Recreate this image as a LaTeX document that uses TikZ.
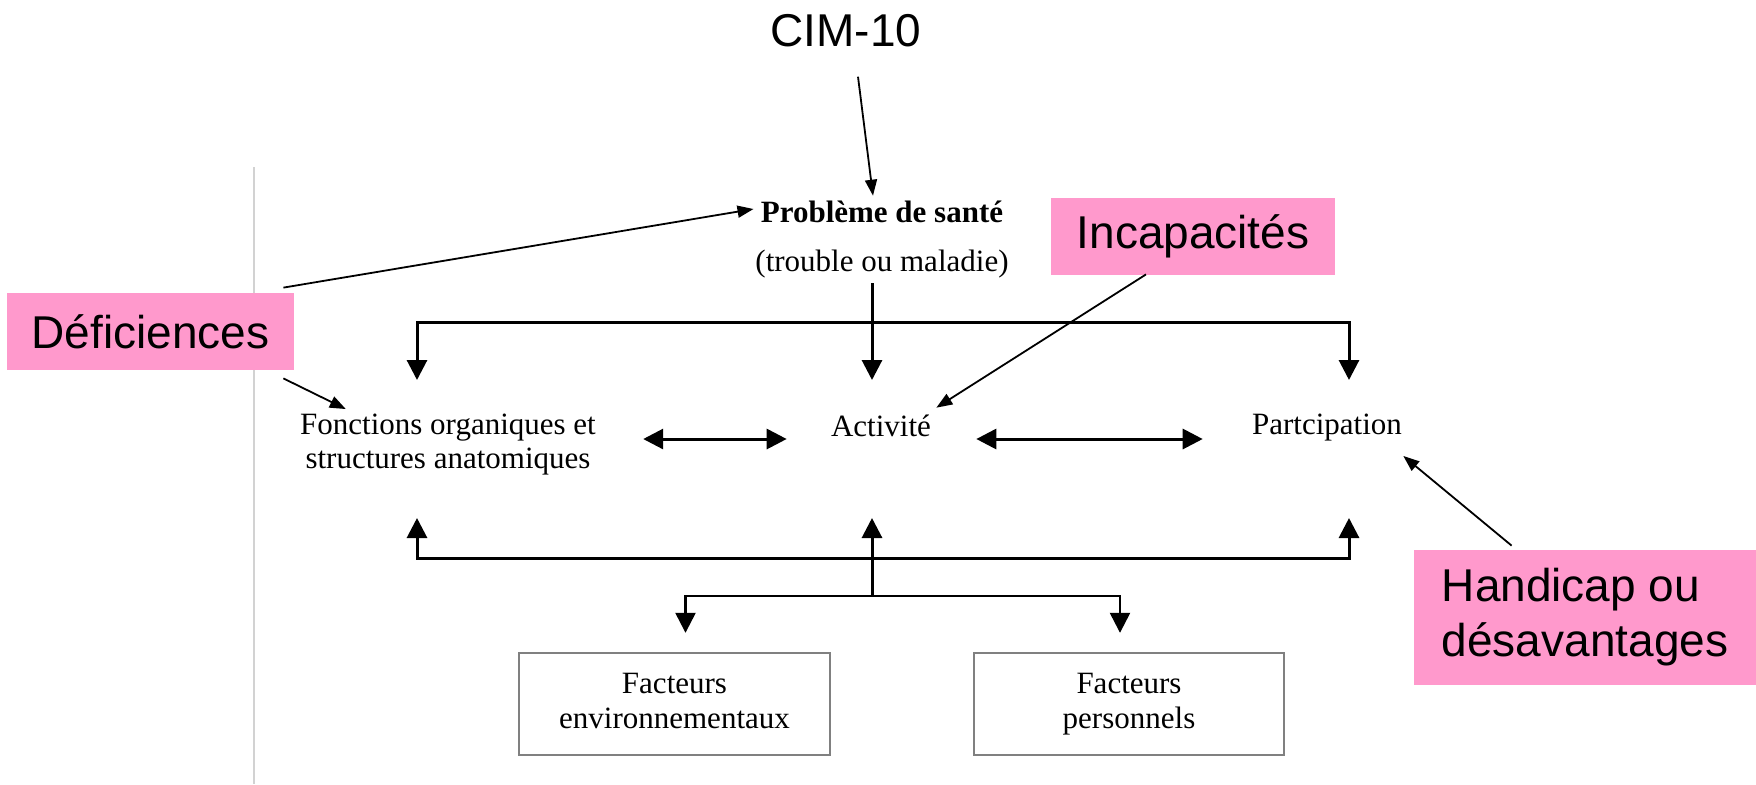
\documentclass[tikz,border=0pt]{standalone}
\usepackage{fontspec}
\setmainfont{Liberation Serif}
\newfontfamily\calloutfont{Liberation Sans}
\usepackage{tikz}
\usetikzlibrary{arrows.meta,positioning}
\definecolor{calloutpink}{RGB}{255,153,204}
\definecolor{rulegray}{RGB}{210,210,210}

\begin{document}
\begin{tikzpicture}[x=0.5pt,y=-0.5pt,
    headline/.style={inner sep=0pt,font=\calloutfont\fontsize{23}{27.5}\selectfont},
    callout/.style={headline,fill=calloutpink},
    term/.style={inner sep=0pt,align=center,font=\fontsize{15.5}{17}\selectfont},
    factor/.style={term,draw=gray,line width=1.2pt,minimum height=51pt,font=\fontsize{15.5}{17.5}\selectfont},
    rail/.style={line width=1.5pt},
    link/.style={rail,-{Triangle[width=10pt,length=10pt]}},
    twohead/.style={rail,{Triangle[width=10pt,length=10pt]}-{Triangle[width=10pt,length=10pt]}},
    pointer/.style={line width=0.9pt,-{Triangle[width=6pt,length=8pt]}}]
    \useasboundingbox (0,0) rectangle (1756,784);
    \draw[rulegray,line width=1pt] (254,167) -- (254,784);

    % labels of the model
    \node[headline] (cim) at (846,31) {CIM-10};
    \node[term,font=\bfseries\fontsize{15.5}{15}\selectfont] (sante) at (882,212) {Problème de santé};
    \node[term] (trouble) at (882,264) {(trouble ou maladie)};
    \node[term] (fonct) at (448,445) {Fonctions organiques et\\structures anatomiques};
    \node[term] (activ) at (881,426) {Activité};
    \node[term] (partic) at (1327,428) {Partcipation};
    \node[factor,minimum width=155.5pt] (env) at (674.5,704) {Facteurs\\environnementaux\vphantom{p}};
    \node[factor,minimum width=155pt] (pers) at (1129,704) {Facteurs\\personnels};

    % pink callouts
    \node[callout,minimum width=143.5pt,minimum height=38.5pt] (defic) at (150.5,331.5) {Déficiences};
    \node[callout,minimum width=142pt,minimum height=38.5pt] (incap) at (1193,236.5) {Incapacités};
    \node[callout,align=left,minimum width=171pt,minimum height=67.5pt] (handi) at (1585,617.5) {Handicap ou\\désavantages};

    % rails
    \coordinate (railTop) at (872,322);
    \coordinate (railBot) at (872,558);
    \coordinate (railSub) at (872,596);
    \coordinate (fonctUp) at (417,380);
    \coordinate (activUp) at (872,380);
    \coordinate (particUp) at (1349,380);
    \coordinate (fonctDn) at (417,518);
    \coordinate (activDn) at (872,518);
    \coordinate (particDn) at (1349,518);
    \coordinate (envUp) at ([xshift=5.5pt,yshift=9.5pt]env.north);
    \coordinate (persUp) at ([xshift=-4.5pt,yshift=9.5pt]pers.north);

    \draw[twohead] (fonctUp) |- (railTop) -| (particUp);
    \draw[link] ([xshift=-5pt,yshift=-2.5pt]trouble.south) -- (activUp);
    \draw[twohead] (fonctDn) |- (railBot) -| (particDn);
    \draw[link] (railBot) -- (activDn);
    \draw[rail] (railBot) -- (railSub);
    \draw[twohead,line width=1.2pt] (envUp) |- (railSub) -| (persUp);
    \draw[twohead] ([xshift=23.5pt,yshift=3pt]fonct.east) -- ([xshift=-22pt,yshift=-6.5pt]activ.west);
    \draw[twohead] ([xshift=22.5pt,yshift=-6.5pt]activ.east) -- ([xshift=-24.5pt,yshift=-5.5pt]partic.west);

    % pointers
    \draw[pointer] ([xshift=6pt,yshift=-14.5pt]cim.south) -- ([xshift=-4.5pt,yshift=2.5pt]sante.north);
    \draw[pointer] ([xshift=-5.5pt,yshift=2.5pt]defic.north east) -- ([xshift=-3.5pt,yshift=1.5pt]sante.west);
    \draw[pointer] ([xshift=-5.5pt,yshift=-4pt]defic.south east) -- ([xshift=23pt,yshift=2.5pt]fonct.north west);
    \draw[pointer] ([xshift=-23.5pt,yshift=0.5pt]incap.south) -- ([xshift=2.5pt,yshift=3.5pt]activ.north east);
    \draw[pointer] ([xshift=49pt,yshift=2pt]handi.north west) -- ([xshift=0.5pt,yshift=-7pt]partic.south east);
\end{tikzpicture}
\end{document}
